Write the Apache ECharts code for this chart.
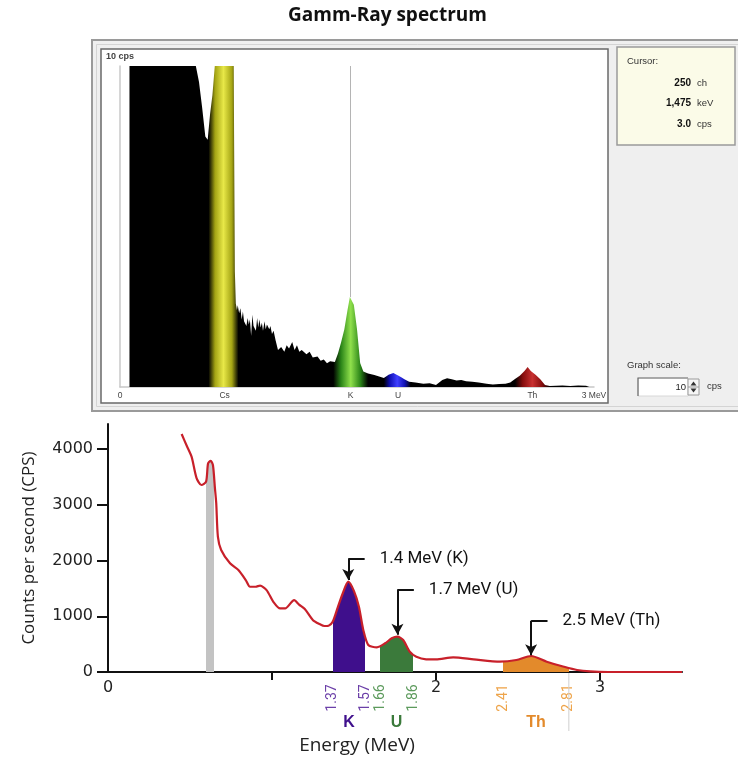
<!DOCTYPE html>
<html>
<head>
<meta charset="utf-8">
<script src="https://cdn.jsdelivr.net/npm/echarts@6/dist/echarts.min.js"></script>
<style>
html, body { margin: 0; padding: 0; background: #fff; }
#charts { width: 738px; height: 763px; }
</style>
</head>
<body>
<div id="charts"></div>
<script>
// upper panel : spectrometer screen (cps, 0 - 3 MeV)
var topEnergy = [0.06,0.48,0.50,0.52,0.54,0.555,0.57,0.585,0.60,0.72,0.722,0.727,0.733,0.740,0.745,0.754,0.762,0.77,0.778,0.785,
	0.80,0.808,0.815,0.822,0.83,0.838,0.845,0.86,0.868,0.875,0.882,0.89,0.898,0.905,0.915,0.922,0.93,0.945,0.952,0.962,
	0.972,0.985,1.00,1.02,1.04,1.055,1.07,1.09,1.105,1.12,1.135,1.15,1.18,1.20,1.22,1.25,1.27,1.29,1.31,1.33,
	1.36,1.38,1.40,1.42,1.44,1.455,1.48,1.50,1.52,1.54,1.57,1.61,1.64,1.67,1.70,1.73,1.76,1.78,1.80,1.83,
	1.87,1.92,1.96,2.00,2.04,2.07,2.10,2.13,2.16,2.19,2.23,2.27,2.32,2.36,2.40,2.44,2.47,2.50,2.53,2.56,
	2.58,2.60,2.63,2.66,2.69,2.72,2.76,2.80,2.85,2.90,2.95,2.97];
var topCps = [10,10,9.5,8.7,7.8,7.7,8.5,9.1,10,10,7.9,3.6,2.6,2.4,2.55,2.3,2.45,2.1,2.35,2.05,
	1.9,2.15,1.95,2.1,1.6,2.25,1.9,1.75,2.15,1.85,2.1,1.85,2.0,1.75,2.05,1.8,1.95,1.8,1.9,1.65,
	1.75,1.45,1.15,1.25,1.1,1.3,1.2,1.4,1.15,1.3,1.1,1.15,1.02,1.1,0.92,0.95,0.82,0.86,0.74,0.8,
	0.78,1.05,1.4,1.8,2.4,2.8,2.56,1.8,0.75,0.48,0.42,0.37,0.33,0.28,0.38,0.44,0.36,0.3,0.24,0.16,
	0.14,0.1,0.12,0.06,0.22,0.27,0.24,0.2,0.22,0.18,0.16,0.14,0.1,0.08,0.09,0.1,0.14,0.25,0.35,0.5,
	0.62,0.5,0.38,0.24,0.06,0.03,0.04,0.05,0.03,0.05,0.04,0];
var topWindowFrom = [0.56, 1.35, 1.67, 2.50];
var topWindowTo = [0.75, 1.57, 1.84, 2.72];
var topWindowDark = ['#a4a414', '#2a8418', '#1010b4', '#840c0c'];
var topWindowBright = ['#e8e848', '#90e04c', '#4040ff', '#c83030'];
var topMarkEnergy = [0, 0.662, 1.46, 1.76, 2.61, 3];
var topMarkLabels = ['0', 'Cs', 'K', 'U', 'Th', '3 MeV'];
var cursorEnergy = 1.46;

// lower panel : counts per second vs energy
var energy = [0.449,0.48,0.51,0.54,0.57,0.598,0.61,0.626,0.64,0.652,0.66,0.67,0.69,0.744,0.795,0.84,0.866,0.90,0.927,0.967,
	1.008,1.05,1.08,1.135,1.165,1.20,1.25,1.29,1.32,1.345,1.37,1.40,1.43,1.465,1.50,1.53,1.557,1.587,1.64,1.69,
	1.73,1.765,1.80,1.84,1.88,1.94,2.00,2.105,2.23,2.39,2.49,2.58,2.675,2.78,2.86,2.94,3.05,3.5];
var counts = [4270,4060,3860,3480,3355,3415,3740,3790,3710,3300,3030,2430,2190,1950,1830,1650,1530,1530,1550,1470,
	1260,1140,1140,1290,1210,1130,930,860,825,830,900,1150,1400,1620,1450,1170,750,485,443,515,
	604,633,574,364,275,228,225,264,228,185,215,287,185,95,36,10,0,0];
var windowNames = ['Cs', 'K', 'U', 'Th'];
var windowFrom = [0.595, 1.37, 1.66, 2.41];
var windowTo = [0.647, 1.57, 1.86, 2.81];
var windowColors = ['#c3c3c3', '#3f0f8c', '#3b7a3b', '#e38a2b'];
var windowTextColors = ['#999', '#6b3fa8', '#5c9a5c', '#eea44a'];
var peakEnergy = [1.465, 1.765, 2.58];
var peakLabels = ['1.4 MeV (K)', '1.7 MeV (U)', '2.5 MeV (Th)'];
var arrowTop = [2030, 1480, 920];
var arrowTip = [1650, 670, 300];
var yTicks = [0, 1000, 2000, 3000, 4000];
var xTicks = [1, 2, 3];
var xTickLabels = [0, 2, 3];

var myChart = echarts.init(document.getElementById('charts'));

function pairs(xs, ys) {
	var out = [];
	for (var i = 0; i < xs.length; i++) out.push([xs[i], ys[i]]);
	return out;
}

// hard coloured windows under the curve, transparent elsewhere
function hardBands(x0, x1) {
	var clear = 'rgba(0,0,0,0)';
	var stops = [{offset: 0, color: clear}];
	for (var i = 0; i < windowFrom.length; i++) {
		var a = (windowFrom[i] - x0) / (x1 - x0), b = (windowTo[i] - x0) / (x1 - x0);
		stops.push({offset: a, color: clear}, {offset: a, color: windowColors[i]},
			{offset: b, color: windowColors[i]}, {offset: b, color: clear});
	}
	stops.push({offset: 1, color: clear});
	return new echarts.graphic.LinearGradient(0, 0, 1, 0, stops);
}

// black spectrum with glowing windows
function softBands(x0, x1) {
	var stops = [{offset: 0, color: '#000'}];
	var prof = [0, 0.22, 0.5, 0.78, 1];
	for (var i = 0; i < topWindowFrom.length; i++) {
		var w = topWindowTo[i] - topWindowFrom[i];
		var cols = ['#000', topWindowDark[i], topWindowBright[i], topWindowDark[i], '#000'];
		for (var k = 0; k < prof.length; k++) {
			stops.push({offset: (topWindowFrom[i] + prof[k] * w - x0) / (x1 - x0), color: cols[k]});
		}
	}
	stops.push({offset: 1, color: '#000'});
	return new echarts.graphic.LinearGradient(0, 0, 1, 0, stops);
}

var uiFont = 'Liberation Sans';
var narrow = 'Roboto';
var plain = function (v) { return String(v); };

var arrowLines = [], labelLines = [];
for (var i = 0; i < peakEnergy.length; i++) {
	arrowLines.push([{coord: [peakEnergy[i], arrowTop[i]]}, {coord: [peakEnergy[i], arrowTip[i]]}]);
	labelLines.push([{coord: [peakEnergy[i], arrowTop[i]], name: peakLabels[i]}, {coord: [peakEnergy[i] + 0.1, arrowTop[i]]}]);
}

option = {
	animation: false,
	backgroundColor: '#fff',
	grid: [
		{left: 120, top: 66, width: 474, height: 321},
		{left: 108, top: 424, width: 574, height: 248}
	],
	xAxis: [
		{
			gridIndex: 0, type: 'value', min: 0, max: 3,
			axisLine: {lineStyle: {color: '#c8c8c8', width: 1.5}},
			axisTick: {show: false},
			splitLine: {show: false},
			axisLabel: {
				customValues: topMarkEnergy,
				margin: 4,
				fontSize: 8.5, fontFamily: uiFont, color: '#444',
				formatter: function (v) {
					for (var j = 0; j < topMarkEnergy.length; j++) {
						if (Math.abs(topMarkEnergy[j] - v) < 1e-6) return topMarkLabels[j];
					}
					return '';
				}
			}
		},
		{
			gridIndex: 1, type: 'value', min: 0, max: 3.5,
			axisLine: {lineStyle: {color: '#111', width: 2}},
			axisTick: {customValues: xTicks, length: 8, lineStyle: {color: '#111', width: 2}},
			splitLine: {show: false},
			axisLabel: {customValues: xTickLabels, margin: 8, fontSize: 16, fontFamily: 'DejaVu Sans', color: '#222', formatter: plain}
		}
	],
	yAxis: [
		{
			gridIndex: 0, type: 'value', min: 0, max: 10,
			axisLine: {show: true, lineStyle: {color: '#c8c8c8', width: 1.5}},
			axisTick: {show: false},
			axisLabel: {show: false},
			splitLine: {show: false},
			name: '10 cps', nameLocation: 'end', nameGap: 5,
			nameTextStyle: {fontSize: 9, fontWeight: 'bold', color: '#444', fontFamily: uiFont}
		},
		{
			gridIndex: 1, type: 'value', min: 0, max: 4450,
			axisLine: {show: true, lineStyle: {color: '#111', width: 2}},
			axisTick: {show: true, customValues: yTicks, length: 11, lineStyle: {color: '#111', width: 2}},
			axisLabel: {customValues: yTicks, margin: 15, fontSize: 16, fontFamily: 'DejaVu Sans', color: '#222', formatter: plain},
			splitLine: {show: false},
			name: 'Counts per second (CPS)', nameLocation: 'middle', nameGap: 70,
			nameTextStyle: {fontSize: 17, fontFamily: 'Open Sans', color: '#222'}
		}
	],
	series: [
		{
			type: 'line', xAxisIndex: 0, yAxisIndex: 0,
			data: pairs(topEnergy, topCps),
			symbol: 'none',
			lineStyle: {width: 0},
			areaStyle: {opacity: 1, color: softBands(topEnergy[0], topEnergy[topEnergy.length - 1])},
			markLine: {
				silent: true, symbol: 'none', label: {show: false},
				lineStyle: {color: '#b4b4b4', width: 1, type: 'solid'},
				data: [[{coord: [cursorEnergy, 10]}, {coord: [cursorEnergy, 2.8]}]]
			}
		},
		{
			type: 'line', xAxisIndex: 1, yAxisIndex: 1,
			data: pairs(energy, counts),
			smooth: 0.25,
			symbol: 'none',
			lineStyle: {width: 0},
			areaStyle: {opacity: 1, color: hardBands(energy[0], energy[energy.length - 1])},
			markLine: {
				silent: true, symbol: 'none',
				lineStyle: {color: '#111', width: 2, type: 'solid'},
				label: {
					show: true, position: 'end', distance: 15, formatter: '{b}',
					fontFamily: narrow, fontSize: 17, color: '#111'
				},
				data: labelLines
			}
		},
		{
			type: 'line', xAxisIndex: 1, yAxisIndex: 1,
			data: pairs(energy, counts),
			smooth: 0.25,
			symbol: 'none',
			z: 4,
			lineStyle: {color: '#c8202a', width: 2.2},
			markLine: {
				silent: true, symbol: ['none', 'arrow'], symbolSize: [9, 11],
				label: {show: false},
				lineStyle: {color: '#111', width: 2, type: 'solid'},
				data: arrowLines
			}
		}
	]
};
myChart.setOption(option);

// screen chrome of the spectrometer and window annotations
var g = [
	{type: 'rect', z: -5, shape: {x: 92, y: 40, width: 660, height: 371}, style: {fill: '#efefef', stroke: '#9a9a9a', lineWidth: 2}},
	{type: 'rect', z: -4, shape: {x: 96.5, y: 44.5, width: 660, height: 362}, style: {fill: 'none', stroke: '#d4d4d4', lineWidth: 1}},
	{type: 'rect', z: -3, shape: {x: 101, y: 49, width: 507, height: 354}, style: {fill: '#fff', stroke: '#6a6a6a', lineWidth: 1.5}},
	{type: 'rect', z: -3, shape: {x: 617, y: 47, width: 118, height: 98}, style: {fill: '#fbfbe8', stroke: '#9a9a9a', lineWidth: 1.5}},
	{type: 'text', x: 627, y: 61, style: {text: 'Cursor:', font: '9.5px ' + uiFont, fill: '#333', verticalAlign: 'middle'}},
	{type: 'text', x: 691, y: 83, style: {text: '250', font: 'bold 10px ' + uiFont, fill: '#111', align: 'right', verticalAlign: 'middle'}},
	{type: 'text', x: 697, y: 83, style: {text: 'ch', font: '9.5px ' + uiFont, fill: '#333', verticalAlign: 'middle'}},
	{type: 'text', x: 691, y: 103, style: {text: '1,475', font: 'bold 10px ' + uiFont, fill: '#111', align: 'right', verticalAlign: 'middle'}},
	{type: 'text', x: 697, y: 103, style: {text: 'keV', font: '9.5px ' + uiFont, fill: '#333', verticalAlign: 'middle'}},
	{type: 'text', x: 691, y: 124, style: {text: '3.0', font: 'bold 10px ' + uiFont, fill: '#111', align: 'right', verticalAlign: 'middle'}},
	{type: 'text', x: 697, y: 124, style: {text: 'cps', font: '9.5px ' + uiFont, fill: '#333', verticalAlign: 'middle'}},
	{type: 'text', x: 627, y: 365, style: {text: 'Graph scale:', font: '9.5px ' + uiFont, fill: '#333', verticalAlign: 'middle'}},
	{type: 'rect', z: -2, shape: {x: 638, y: 378, width: 50, height: 18}, style: {fill: '#fff', stroke: '#d8d8d8', lineWidth: 1}},
	{type: 'polyline', shape: {points: [[638, 396], [638, 378], [688, 378]]}, style: {stroke: '#6a6a6a', lineWidth: 1.2}},
	{type: 'text', x: 686, y: 387, style: {text: '10', font: '9.5px ' + uiFont, fill: '#222', align: 'right', verticalAlign: 'middle'}},
	{type: 'rect', shape: {x: 688, y: 379, width: 11, height: 16}, style: {fill: '#f6f6f6', stroke: '#9a9a9a', lineWidth: 1}},
	{type: 'polygon', shape: {points: [[690.5, 385.5], [693.5, 381.5], [696.5, 385.5]]}, style: {fill: '#333'}},
	{type: 'polygon', shape: {points: [[690.5, 388.5], [693.5, 392.5], [696.5, 388.5]]}, style: {fill: '#333'}},
	{type: 'line', shape: {x1: 688, y1: 387, x2: 699, y2: 387}, style: {stroke: '#9a9a9a', lineWidth: 1}},
	{type: 'text', x: 707, y: 386, style: {text: 'cps', font: '9.5px ' + uiFont, fill: '#333', verticalAlign: 'middle'}},
	{type: 'text', x: 288, y: 16, style: {text: 'Gamm-Ray spectrum', font: 'bold 19px "Open Sans"', fill: '#111', verticalAlign: 'middle'}},
	{type: 'text', x: 357, y: 746, style: {text: 'Energy (MeV)', font: '19px "Open Sans"', fill: '#222', align: 'center', verticalAlign: 'middle'}}
];

for (var w = 1; w < windowFrom.length; w++) {
	[windowFrom[w], windowTo[w]].forEach(function (v) {
		var p = myChart.convertToPixel({gridIndex: 1}, [v, 0]);
		g.push({type: 'text', x: p[0], y: 698, rotation: Math.PI / 2,
			style: {text: v.toFixed(2), font: '14px ' + narrow, fill: windowTextColors[w], align: 'center', verticalAlign: 'middle'}});
	});
	var pm = myChart.convertToPixel({gridIndex: 1}, [(windowFrom[w] + windowTo[w]) / 2, 0]);
	g.push({type: 'text', x: pm[0], y: 723,
		style: {text: windowNames[w], font: 'bold 16px ' + uiFont, fill: windowColors[w], align: 'center', verticalAlign: 'middle'}});
}
var pEnd = myChart.convertToPixel({gridIndex: 1}, [windowTo[windowTo.length - 1], 0]);
g.push({type: 'line', shape: {x1: pEnd[0], y1: pEnd[1], x2: pEnd[0], y2: 731}, style: {stroke: '#cfcfcf', lineWidth: 1}});

myChart.setOption({graphic: g});
</script>
</body>
</html>
